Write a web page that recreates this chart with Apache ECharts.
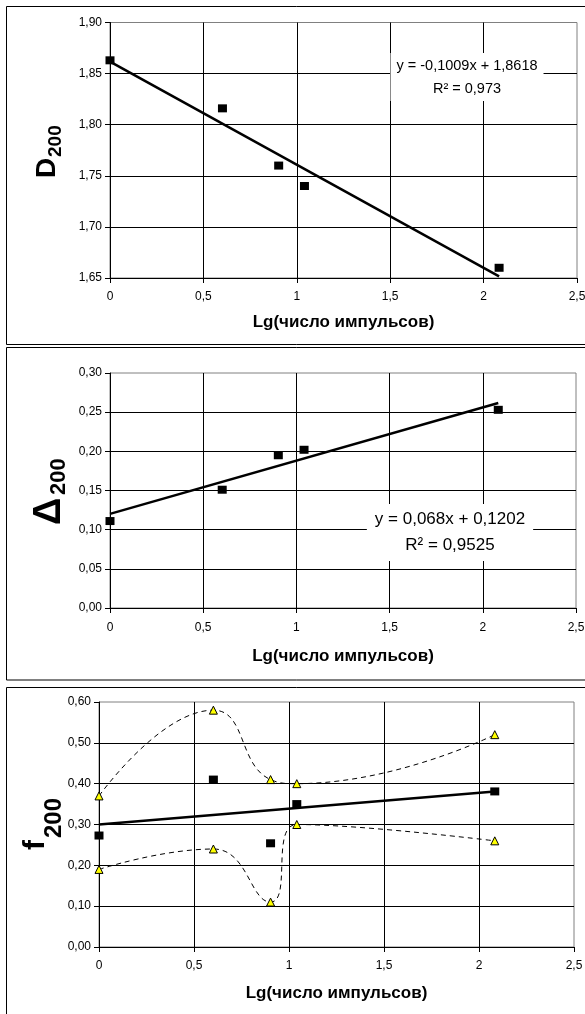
<!DOCTYPE html>
<html><head><meta charset="utf-8">
<script src="https://cdn.jsdelivr.net/npm/echarts@6/dist/echarts.min.js"></script>
<style>html,body{margin:0;padding:0;background:#fff}#c{width:585px;height:1014px}</style>
</head><body><div id="c"></div>
<script>
// ---- data ----
const xVals = [0, 0.602, 0.903, 1.041, 2.083];          // Lg(число импульсов)
const d200 = [1.863, 1.816, 1.760, 1.740, 1.660];
const delta200 = [0.111, 0.151, 0.195, 0.202, 0.253];
const f200 = [0.273, 0.410, 0.254, 0.350, 0.381];
const f200Upper = [0.37, 0.58, 0.41, 0.40, 0.52];
const f200Lower = [0.19, 0.24, 0.11, 0.30, 0.26];
const trendX = [0, 2.083];
const d200Trend = [1.8618, 1.6516];
const delta200Trend = [0.1202, 0.2618];
const f200Trend = [0.300, 0.381];
const xTickLabels = ['0', '0,5', '1', '1,5', '2', '2,5'];
const yTicks1 = ['1,65', '1,70', '1,75', '1,80', '1,85', '1,90'];
const yTicks2 = ['0,00', '0,05', '0,10', '0,15', '0,20', '0,25', '0,30'];
const yTicks3 = ['0,00', '0,10', '0,20', '0,30', '0,40', '0,50', '0,60'];
const xTitle = 'Lg(число импульсов)';
const eq1 = ['y = -0,1009x + 1,8618', 'R² = 0,973'];
const eq2 = ['y = 0,068x + 0,1202', 'R² = 0,9525'];

const FF = '"Liberation Sans", Arial, sans-serif';
const pairs = (xs, ys) => xs.map((x, i) => [x, ys[i]]);

function mkX(gi, nameGap, margin) {
  return {
    gridIndex: gi, type: 'value', min: 0, max: 2.5, interval: 0.5,
    axisLine: { show: true, onZero: false, lineStyle: { color: '#000', width: 1 } },
    axisTick: { show: true, length: 5, lineStyle: { color: '#000' } },
    axisLabel: { margin: margin, fontSize: 12, color: '#000', fontFamily: FF,
      formatter: v => xTickLabels[Math.round(v / 0.5)] },
    splitLine: { show: true, showMinLine: false, showMaxLine: false, lineStyle: { color: '#000', width: 1 } },
    name: xTitle, nameLocation: 'middle', nameGap: nameGap,
    nameTextStyle: { fontSize: 17, fontWeight: 'bold', color: '#000', fontFamily: FF }
  };
}
function mkY(gi, min, max, interval, labels) {
  return {
    gridIndex: gi, type: 'value', min: min, max: max, interval: interval,
    axisLine: { show: true, onZero: false, lineStyle: { color: '#000', width: 1 } },
    axisTick: { show: true, length: 5, lineStyle: { color: '#000' } },
    axisLabel: { margin: 8, fontSize: 12, color: '#000', fontFamily: FF,
      formatter: v => labels[Math.round((v - min) / interval)] },
    splitLine: { show: true, showMinLine: false, showMaxLine: false, lineStyle: { color: '#000', width: 1 } }
  };
}
const gridBase = { show: true, borderColor: '#808080', borderWidth: 1, containLabel: false, outerBoundsMode: 'none' };

const squares = (gi, ys) => ({ type: 'scatter', xAxisIndex: gi, yAxisIndex: gi, data: pairs(xVals, ys),
  symbol: 'rect', symbolSize: [9, 8], itemStyle: { color: '#000', opacity: 1 }, z: 3 });
const trend = (gi, ys) => ({ type: 'line', xAxisIndex: gi, yAxisIndex: gi, data: pairs(trendX, ys),
  symbol: 'none', lineStyle: { color: '#000', width: 2.5 }, z: 4 });
const dashed = (ys) => ({ type: 'line', xAxisIndex: 2, yAxisIndex: 2, data: pairs(xVals, ys), smooth: 0.5,
  symbol: 'triangle', symbolSize: 8, showAllSymbol: true,
  itemStyle: { color: '#ffff00', borderColor: '#000', borderWidth: 1, opacity: 1 },
  lineStyle: { color: '#000', width: 1, type: [5, 4] }, z: 5 });

const frame = (y, h) => ({ type: 'rect', z: 100, shape: { x: 6.5, y: y, width: 700, height: h },
  style: { fill: 'none', stroke: '#000', lineWidth: 1 }, silent: true });
const rotText = (x, y, text, size) => ({ type: 'text', x: x, y: y, rotation: Math.PI / 2, z: 100,
  style: { text: text, fontSize: size, fontWeight: 'bold', fontFamily: FF, fill: '#000', align: 'left', verticalAlign: 'middle' } });
const eqText = (x, y, lines, size, lh, pad) => ({ type: 'text', x: x, y: y, z: 100,
  style: { text: lines.join('\n'), fontSize: size, fontFamily: FF, fill: '#000', align: 'center', verticalAlign: 'middle',
    lineHeight: lh, backgroundColor: '#fff', padding: pad } });

const chart = echarts.init(document.getElementById('c'), null, { renderer: 'canvas' });
chart.setOption({
  animation: false,
  backgroundColor: '#fff',
  grid: [
    Object.assign({ left: 110, top: 22.5, width: 467, height: 255.5 }, gridBase),
    Object.assign({ left: 110, top: 373, width: 466, height: 235 }, gridBase),
    Object.assign({ left: 99, top: 702, width: 475, height: 245 }, gridBase)
  ],
  xAxis: [mkX(0, 36, 13), mkX(1, 40, 14), mkX(2, 38, 13)],
  yAxis: [mkY(0, 1.65, 1.90, 0.05, yTicks1), mkY(1, 0, 0.30, 0.05, yTicks2), mkY(2, 0, 0.60, 0.10, yTicks3)],
  series: [
    squares(0, d200), trend(0, d200Trend),
    squares(1, delta200), trend(1, delta200Trend),
    dashed(f200Upper), dashed(f200Lower),
    squares(2, f200), trend(2, f200Trend)
  ],
  graphic: [
    frame(6.5, 338), frame(347.5, 332.5), frame(687.5, 400),
    rotText(47.5, 178, 'D', 28), rotText(55.5, 157, '200', 19),
    rotText(50, 525, 'Δ', 38), rotText(58.5, 495, '200', 22),
    rotText(35.5, 850, 'f', 30), rotText(54.5, 838, '200', 24),
    eqText(467, 77, eq1, 14.5, 23, [1, 6]),
    eqText(450, 532.5, eq2, 17, 25.5, [3, 8])
  ]
});
</script></body></html>
